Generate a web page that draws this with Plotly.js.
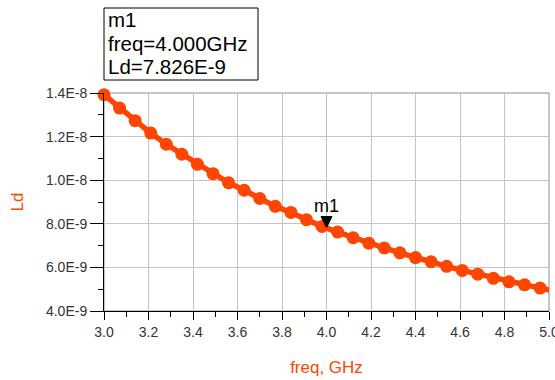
<!DOCTYPE html>
<html>
<head>
<meta charset="utf-8">
<script src="https://cdn.plot.ly/plotly-3.0.1.min.js"></script>
<style>html,body{margin:0;padding:0;background:#fff;}#chart{width:555px;height:380px;}</style>
</head>
<body>
<div id="chart"></div>
<script>
// Sweep data
const freq = [3.00, 3.07, 3.14, 3.21, 3.28, 3.35, 3.42, 3.49, 3.56, 3.63,
              3.70, 3.77, 3.84, 3.91, 3.98, 4.05, 4.12, 4.19, 4.26, 4.33,
              4.40, 4.47, 4.54, 4.61, 4.68, 4.75, 4.82, 4.89, 4.96, 5.03];
const Ld = [13.92e-9, 13.31e-9, 12.73e-9, 12.16e-9, 11.65e-9, 11.19e-9, 10.73e-9, 10.30e-9, 9.88e-9, 9.54e-9,
            9.16e-9, 8.80e-9, 8.52e-9, 8.19e-9, 7.88e-9, 7.62e-9, 7.36e-9, 7.11e-9, 6.89e-9, 6.67e-9,
            6.45e-9, 6.26e-9, 6.05e-9, 5.86e-9, 5.69e-9, 5.50e-9, 5.34e-9, 5.20e-9, 5.05e-9, 4.90e-9];
const markerName = 'm1';
const markerFreq = 4.0;
const markerLd = 7.826e-9;
const markerLines = ['m1', 'freq=4.000GHz', 'Ld=7.826E-9'];

const xTickVals = [3.0, 3.2, 3.4, 3.6, 3.8, 4.0, 4.2, 4.4, 4.6, 4.8, 5.0];
const xTickText = ['3.0', '3.2', '3.4', '3.6', '3.8', '4.0', '4.2', '4.4', '4.6', '4.8', '5.0'];
const yTickVals = [4e-9, 6e-9, 8e-9, 1.0e-8, 1.2e-8, 1.4e-8];
const yTickText = ['4.0E-9', '6.0E-9', '8.0E-9', '1.0E-8', '1.2E-8', '1.4E-8'];

const orange = '#ff4500';
const font = 'Arial, "Liberation Sans", sans-serif';

// points inside the x window get markers; the line runs through all samples
const inRange = freq.map((f) => f <= 5.0 + 1e-9);
const mX = freq.filter((f, i) => inRange[i]);
const mY = Ld.filter((v, i) => inRange[i]);

const traces = [
  {x: freq, y: Ld, type: 'scatter', mode: 'lines',
   line: {color: orange, width: 5.5}, hoverinfo: 'skip', showlegend: false},
  {x: mX, y: mY, type: 'scatter', mode: 'markers', cliponaxis: false,
   marker: {color: orange, size: 13, symbol: 'circle'}, showlegend: false}
];

// marker label box (pixel geometry converted to paper fractions)
const L = 104, R = 6, T = 93, B = 69, W = 555, H = 380;
const pw = W - L - R, ph = H - T - B;
const px = (x) => (x - L) / pw;
const py = (y) => (H - B - y) / ph;

const boxLines = markerLines.map((t, i) => ({
  xref: 'paper', yref: 'paper', x: px(106), y: py(20 + 23 * i),
  xanchor: 'left', yanchor: 'middle', showarrow: false, text: t,
  font: {family: font, size: 20.5, color: '#000'}
}));

const layout = {
  width: W, height: H,
  margin: {l: L, r: R, t: T, b: B, pad: 0},
  paper_bgcolor: '#fff', plot_bgcolor: '#fff',
  showlegend: false,
  xaxis: {
    range: [3.0, 5.0], tickmode: 'array', tickvals: xTickVals, ticktext: xTickText,
    ticklabeloverflow: 'allow',
    showgrid: true, gridcolor: '#c4c4c4', gridwidth: 1, zeroline: false,
    showline: true, linecolor: '#000', linewidth: 1,
    ticks: 'outside', ticklen: 8, tickcolor: '#000', tickwidth: 1,
    minor: {dtick: 0.1, tick0: 3.0, ticks: 'outside', ticklen: 5, tickcolor: '#000', showgrid: false},
    tickfont: {family: font, size: 14, color: '#333'},
    title: {text: 'freq, GHz', font: {family: font, size: 17, color: orange}, standoff: 22}
  },
  yaxis: {
    range: [4e-9, 1.4e-8], tickmode: 'array', tickvals: yTickVals, ticktext: yTickText,
    showgrid: true, gridcolor: '#c4c4c4', gridwidth: 1, zeroline: false,
    showline: true, linecolor: '#000', linewidth: 1,
    ticks: 'outside', ticklen: 13, tickcolor: '#000', tickwidth: 1,
    minor: {dtick: 1e-9, tick0: 0, ticks: 'outside', ticklen: 5, tickcolor: '#000', showgrid: false},
    tickfont: {family: font, size: 14, color: '#333'},
    title: {text: 'Ld', font: {family: font, size: 17, color: orange}, standoff: 18}
  },
  shapes: [
    {type: 'rect', xref: 'paper', yref: 'paper', x0: 0, x1: 1, y0: 0, y1: 1,
     line: {color: '#8c8c8c', width: 1}, layer: 'below'},
    {type: 'rect', xref: 'paper', yref: 'paper', x0: px(104), x1: px(258), y0: py(80), y1: py(8),
     line: {color: '#000', width: 1}, fillcolor: '#fff'},
    {type: 'path', xref: 'x', yref: 'y', xsizemode: 'pixel', ysizemode: 'pixel',
     xanchor: markerFreq, yanchor: markerLd,
     path: 'M-5.5,11 L5.5,11 L0,0 Z', fillcolor: '#000', line: {color: '#000', width: 1}, layer: 'above'}
  ],
  annotations: boxLines.concat([
    {xref: 'x', yref: 'y', x: markerFreq, y: markerLd, yshift: 22, xanchor: 'center', yanchor: 'middle',
     showarrow: false, text: markerName, font: {family: font, size: 18, color: '#000'}}
  ])
};

Plotly.newPlot('chart', traces, layout, {staticPlot: true, displayModeBar: false});
</script>
</body>
</html>
